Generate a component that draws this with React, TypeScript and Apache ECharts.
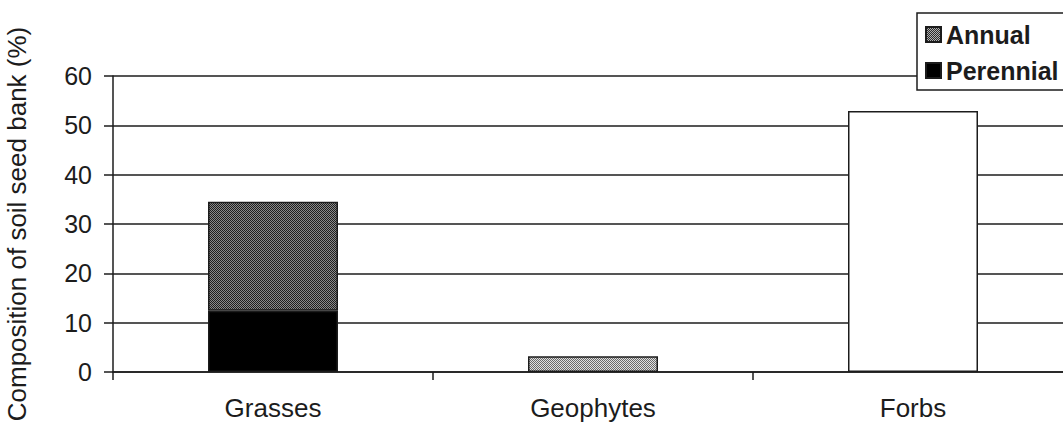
import React, { useEffect, useRef } from "react";
import * as echarts from "echarts";

const categories = ["Grasses", "Geophytes", "Forbs"];
const perennial: (number | string)[] = [12.4, "-", "-"];
const annual: (number | string)[] = [22.1, 3.2, "-"];
const other: (number | string)[] = ["-", "-", 52.9];
const legendNames = ["Annual", "Perennial"];
const yAxisTitle = "Composition of soil seed bank (%)";

function makePattern(dark: string, light: string): HTMLCanvasElement {
  const c = document.createElement("canvas");
  c.width = 2;
  c.height = 2;
  const ctx = c.getContext("2d")!;
  ctx.fillStyle = light;
  ctx.fillRect(0, 0, 2, 2);
  ctx.fillStyle = dark;
  ctx.fillRect(0, 0, 1, 1);
  ctx.fillRect(1, 1, 1, 1);
  return c;
}

const FONT = "Liberation Sans, Arial, sans-serif";
const INK = "#1c1c1c";

export default function App() {
  const ref = useRef<HTMLDivElement>(null);
  useEffect(() => {
    if (!ref.current) return;
    const chart = echarts.init(ref.current, undefined, { renderer: "svg" });
    const darkPat = { image: makePattern("#1e1e1e", "#8a8a8a"), repeat: "repeat" };
    const midPat = { image: makePattern("#2a2a2a", "#b0b0b0"), repeat: "repeat" };
    const lightPat = { image: makePattern("#6a6a6a", "#e0e0e0"), repeat: "repeat" };
    const annualData = annual.map((v, i) => {
      if (v === "-") return v;
      return { value: v, itemStyle: { color: i === 0 ? darkPat : lightPat } };
    });
    const barBase = {
      type: "bar",
      stack: "total",
      barWidth: 130,
      itemStyle: { borderColor: INK, borderWidth: 1.5 },
    };
    chart.setOption({
      animation: false,
      backgroundColor: "#ffffff",
      textStyle: { fontFamily: FONT, color: INK },
      grid: {
        left: 113,
        top: 76,
        width: 960,
        height: 296,
        containLabel: false,
        outerBoundsMode: "none",
      },
      legend: {
        data: legendNames,
        orient: "vertical",
        left: 917,
        top: 13,
        padding: [9, 40, 7, 8],
        itemGap: 11,
        itemWidth: 15,
        itemHeight: 15,
        icon: "rect",
        backgroundColor: "#ffffff",
        borderColor: INK,
        borderWidth: 1.5,
        borderRadius: 0,
        textStyle: { fontFamily: FONT, fontSize: 25, fontWeight: "bold", color: INK },
        selectedMode: false,
      },
      xAxis: {
        type: "category",
        data: categories,
        axisLine: { lineStyle: { color: INK, width: 1.5 } },
        axisTick: { show: true, length: 8, lineStyle: { color: INK, width: 1.5 } },
        axisLabel: { fontFamily: FONT, fontSize: 26, color: INK, margin: 23 },
        splitLine: { show: false },
      },
      yAxis: {
        type: "value",
        min: 0,
        max: 60,
        interval: 10,
        name: yAxisTitle,
        nameLocation: "middle",
        nameRotate: 90,
        nameGap: 83,
        nameTextStyle: { fontFamily: FONT, fontSize: 26, color: INK },
        axisLine: { show: true, lineStyle: { color: INK, width: 1.5 } },
        axisTick: { show: true, length: 9, lineStyle: { color: INK, width: 1.5 } },
        axisLabel: { fontFamily: FONT, fontSize: 25, color: INK, margin: 21 },
        splitLine: { show: true, lineStyle: { color: INK, width: 1.5 } },
      },
      series: [
        {
          ...barBase,
          name: "Perennial",
          data: perennial,
          itemStyle: { color: "#000000", borderColor: INK, borderWidth: 1.5 },
        },
        {
          ...barBase,
          name: "Annual",
          data: annualData,
          itemStyle: { color: midPat, borderColor: INK, borderWidth: 1.5 },
        },
        {
          ...barBase,
          name: "Other",
          data: other,
          itemStyle: { color: "#ffffff", borderColor: INK, borderWidth: 1.5 },
        },
      ],
    } as any);
    return () => chart.dispose();
  }, []);
  return (
    <div
      ref={ref}
      style={{ position: "absolute", left: 0, top: 0, width: 1063, height: 430 }}
    />
  );
}
